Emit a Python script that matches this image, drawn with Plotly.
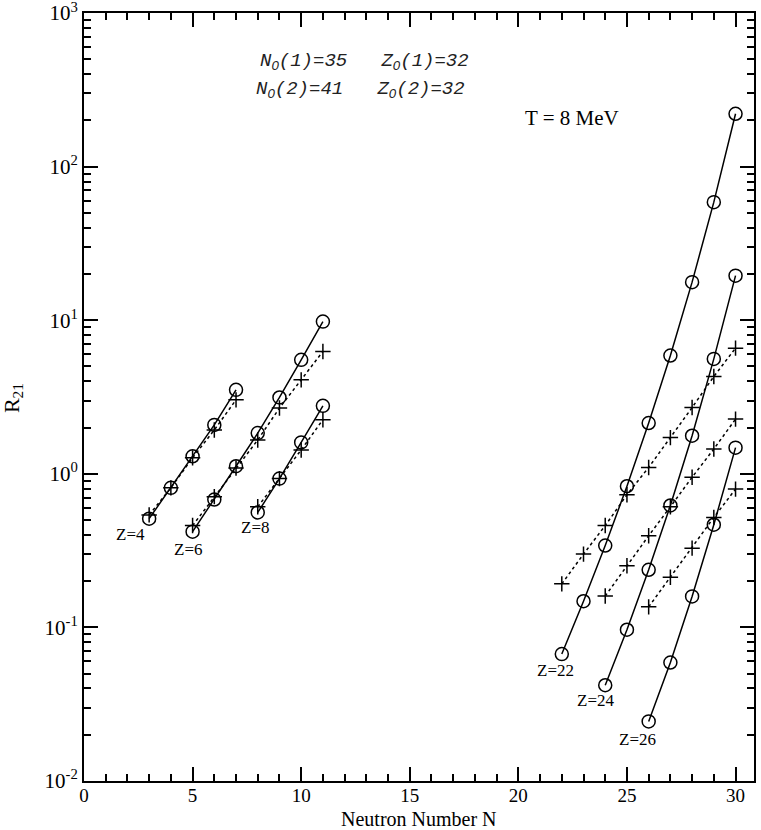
import plotly.graph_objects as go

# neutron numbers per isotope chain
n_z4 = [3, 4, 5, 6, 7]
n_z6 = [5, 6, 7, 8, 9, 10, 11]
n_z8 = [8, 9, 10, 11]
n_z22 = [22, 23, 24, 25, 26, 27, 28, 29, 30]
n_z24 = [24, 25, 26, 27, 28, 29, 30]
n_z26 = [26, 27, 28, 29, 30]

# R21 circles (solid line)
r_circ_z4 = [0.51, 0.81, 1.30, 2.08, 3.52]
r_circ_z6 = [0.42, 0.68, 1.12, 1.84, 3.14, 5.52, 9.8]
r_circ_z8 = [0.56, 0.93, 1.60, 2.77]
r_circ_z22 = [0.067, 0.148, 0.341, 0.83, 2.14, 5.89, 17.7, 58.7, 221]
r_circ_z24 = [0.042, 0.0965, 0.237, 0.622, 1.77, 5.6, 19.5]
r_circ_z26 = [0.0244, 0.059, 0.159, 0.466, 1.48]

# R21 crosses (dotted line)
r_plus_z4 = [0.54, 0.81, 1.27, 1.93, 3.03]
r_plus_z6 = [0.46, 0.71, 1.09, 1.66, 2.68, 4.09, 6.26]
r_plus_z8 = [0.61, 0.93, 1.43, 2.25]
r_plus_z22 = [0.192, 0.30, 0.46, 0.73, 1.10, 1.72, 2.70, 4.3, 6.58]
r_plus_z24 = [0.16, 0.252, 0.395, 0.61, 0.95, 1.45, 2.27]
r_plus_z26 = [0.136, 0.212, 0.328, 0.52, 0.795]

z_labels = ["Z=4", "Z=6", "Z=8", "Z=22", "Z=24", "Z=26"]

y_tickvals = [0.01, 0.1, 1, 10, 100, 1000]
y_ticktext = ["10<sup>-2</sup>", "10<sup>-1</sup>", "10<sup>0</sup>",
              "10<sup>1</sup>", "10<sup>2</sup>", "10<sup>3</sup>"]

serif = "Liberation Serif"

chains = [
    (n_z4, r_circ_z4, r_plus_z4),
    (n_z6, r_circ_z6, r_plus_z6),
    (n_z8, r_circ_z8, r_plus_z8),
    (n_z22, r_circ_z22, r_plus_z22),
    (n_z24, r_circ_z24, r_plus_z24),
    (n_z26, r_circ_z26, r_plus_z26),
]

fig = go.Figure()

for n, rc, rp in chains:
    fig.add_trace(go.Scatter(
        x=n, y=rp, mode="lines+markers",
        line=dict(color="black", width=1.5, dash="dot"),
        marker=dict(symbol="cross-thin-open", size=11, color="black",
                    line=dict(color="black", width=1.5)),
        showlegend=False
    ))
    fig.add_trace(go.Scatter(
        x=n, y=rc, mode="lines+markers",
        line=dict(color="black", width=1.5),
        marker=dict(symbol="circle-open", size=13, color="black",
                    line=dict(color="black", width=1.5)),
        showlegend=False
    ))

# label positions (data coords, log10 for y)
label_pos = [(2.12, -0.397), (4.79, -0.495), (7.88, -0.352),
             (21.7, -1.283), (23.55, -1.478), (25.48, -1.732)]
for txt, (lx, ly) in zip(z_labels, label_pos):
    fig.add_annotation(x=lx, y=ly, text=txt, showarrow=False,
                       xanchor="center", yanchor="middle",
                       font=dict(family=serif, size=17, color="black"))


def paper_text(x, y, text, font, angle=0):
    fig.add_annotation(xref="paper", yref="paper", x=x, y=y, text=text,
                       showarrow=False, xanchor="center", yanchor="middle",
                       textangle=angle, borderpad=0, font=font)


mono = dict(family="Liberation Mono", size=19, color="#222")
zero = '<span style="font-family:Liberation Sans">0</span>'
paper_text(0.418, 0.937,
           f"<i>N<sub>{zero}</sub>(1)=35&nbsp;&nbsp;&nbsp;Z<sub>{zero}</sub>(1)=32</i>", mono)
paper_text(0.412, 0.900,
           f"<i>N<sub>{zero}</sub>(2)=41&nbsp;&nbsp;&nbsp;Z<sub>{zero}</sub>(2)=32</i>", mono)
paper_text(0.728, 0.863, "T = 8 MeV",
           dict(family=serif, size=21, color="black"))

# axis titles
paper_text(0.5, -0.050, "Neutron Number N",
           dict(family=serif, size=20, color="black"))
paper_text(-0.107, 0.499, "R<sub>21</sub>",
           dict(family=serif, size=22, color="black"), angle=-90)

fig.update_xaxes(
    range=[0, 30.85], tickvals=[0, 5, 10, 15, 20, 25, 30],
    ticks="inside", ticklen=14, tickwidth=1.5, tickcolor="black",
    minor=dict(dtick=1, ticks="inside", ticklen=7, tickwidth=1.5,
               tickcolor="black", showgrid=False),
    showline=True, linecolor="black", linewidth=2, mirror="allticks",
    showgrid=False, zeroline=False, automargin=False,
    ticklabeloverflow="allow", ticklabelstandoff=-4,
    tickfont=dict(family=serif, size=19, color="black")
)
fig.update_yaxes(
    type="log", range=[-2.0005, 3.0005], tickvals=y_tickvals, ticktext=y_ticktext,
    ticks="inside", ticklen=14, tickwidth=1.5, tickcolor="black",
    minor=dict(dtick="D1", ticks="inside", ticklen=7, tickwidth=1.5,
               tickcolor="black", showgrid=False),
    showline=True, linecolor="black", linewidth=2, mirror="allticks",
    showgrid=False, zeroline=False, automargin=False,
    ticklabelstandoff=0, ticklabeloverflow="allow",
    tickfont=dict(family=serif, size=21, color="black")
)

fig.update_layout(
    width=761, height=830,
    margin=dict(l=84, r=7, t=13, b=49),
    plot_bgcolor="white", paper_bgcolor="white",
    showlegend=False
)

# page has a default 8px body margin; drop it so the figure sits at 0,0
fig.write_html("out.html", config={"displayModeBar": False},
               post_script="document.body.style.margin='0';")
